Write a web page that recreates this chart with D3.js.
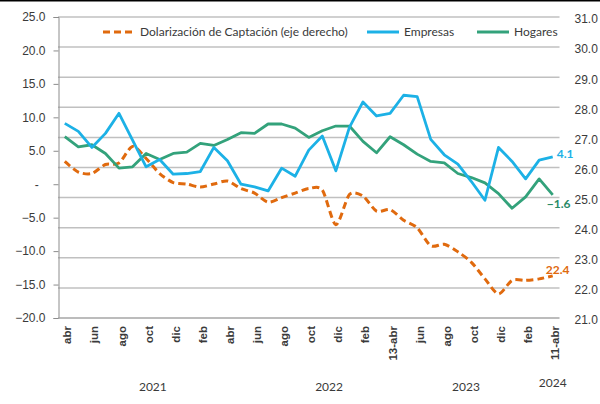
<!DOCTYPE html>
<html>
<head>
<meta charset="utf-8">
<script src="https://cdn.jsdelivr.net/npm/d3@7"></script>
<style>
  body { margin: 0; background: #fff; }
  svg { display: block; font-family: Lato, "Liberation Sans", sans-serif; }
</style>
</head>
<body>
<div id="chart"></div>
<script>
// monthly series, abr 2021 .. abr 2024
var empresas = [9.1, 7.9, 5.5, 7.6, 10.6, 6.6, 2.6, 3.7, 1.5, 1.6, 1.9, 5.5, 3.5, 0.0, -0.4, -1.0,
    2.4, 1.2, 5.1, 7.2, 2.0, 8.5, 12.3, 10.2, 10.6, 13.3, 13.1, 6.7, 4.4, 3.0, 0.4, -2.4,
    5.5, 3.4, 0.8, 3.6, 4.1];
var hogares = [7.1, 5.6, 5.9, 4.6, 2.4, 2.6, 4.6, 3.7, 4.6, 4.8, 6.1, 5.8, 6.7, 7.7, 7.6, 9.0,
    9.0, 8.4, 7.0, 8.0, 8.7, 8.7, 6.4, 4.7, 7.1, 5.9, 4.5, 3.4, 3.2, 1.6, 1.0, 0.2,
    -1.4, -3.6, -1.9, 0.8, -1.6];
// dolarizacion de captacion, right axis
var dolarizacion = [26.2, 25.85, 25.8, 26.1, 26.15, 26.7, 26.3, 25.8, 25.5, 25.45, 25.35, 25.45,
    25.55, 25.3, 25.15, 24.85, 25.0, 25.15, 25.3, 25.25, 24.1, 25.1, 25.05, 24.55, 24.6, 24.25,
    24.0, 23.4, 23.45, 23.2, 22.85, 22.3, 21.8, 22.25, 22.25, 22.3, 22.4];

// every second month gets a label
var monthLabels = ["abr", "jun", "ago", "oct", "dic", "feb", "abr", "jun", "ago", "oct",
    "dic", "feb", "13-abr", "jun", "ago", "oct", "dic", "feb", "11-abr"];
var years = ["2021", "2022", "2023", "2024"];
var yearAt = [6.5, 19.5, 29.6, 36]; // category index under which the year sits

var leftTicks = [-20, -15, -10, -5, 0, 5, 10, 15, 20, 25];
var rightTicks = [21, 22, 23, 24, 25, 26, 27, 28, 29, 30, 31];

var W = 600, H = 404;
var blue = "#1cb1e6", green = "#33a27b", orange = "#e06a0e";
var textCol = "#3a3a3a";

var svg = d3.select("#chart").append("svg").attr("width", W).attr("height", H);

// thin black rule at the very top
svg.append("line").attr("x1", 0).attr("x2", W).attr("y1", 0.5).attr("y2", 0.5)
    .attr("stroke", "#000").attr("stroke-width", 2);

var n = empresas.length;
var x = d3.scalePoint().domain(d3.range(n)).range([58, 559.5]).padding(0.5);
var yL = d3.scaleLinear().domain([-20, 25]).range([318, 17]);
var yR = d3.scaleLinear().domain([21, 31]).range([318, 17]);

// gridlines follow the right axis
svg.append("g").selectAll("line").data(rightTicks.slice(1)).enter().append("line")
    .attr("x1", 58).attr("x2", 559.5)
    .attr("y1", function (d) { return yR(d) }).attr("y2", function (d) { return yR(d) })
    .attr("stroke", "#c0c0c0").attr("stroke-width", 1.5);

// left axis
var leftAxis = d3.axisLeft(yL).tickValues(leftTicks).tickSize(5).tickPadding(8)
    .tickFormat(function (d) { return d === 0 ? "-  " : d3.format(".1f")(d) });
var gl = svg.append("g").attr("transform", "translate(58.5,0)").call(leftAxis);
gl.select(".domain").attr("stroke", "#8c8c8c");
gl.selectAll(".tick line").attr("stroke", "#8c8c8c");
gl.selectAll(".tick text").attr("fill", textCol).attr("font-size", 12)
    .style("white-space", "pre");

// right axis labels only
var rightAxis = d3.axisRight(yR).tickValues(rightTicks).tickSize(0).tickPadding(15)
    .tickFormat(d3.format(".1f"));
var gr = svg.append("g").attr("transform", "translate(559.5,2)").call(rightAxis);
gr.select(".domain").remove();
gr.selectAll(".tick text").attr("fill", textCol).attr("font-size", 12);

// bottom axis
var bottomAxis = d3.axisBottom(x).tickSize(0)
    .tickValues(d3.range(0, n, 2))
    .tickFormat(function (d) { return monthLabels[d / 2] });
var gb = svg.append("g").attr("transform", "translate(0,318)").call(bottomAxis);
gb.select(".domain").attr("stroke", "#a6a6a6").attr("stroke-width", 1.5)
    .attr("d", "M58,0H559.5");
gb.selectAll(".tick text")
    .attr("transform", "rotate(-90)")
    .attr("text-anchor", "end")
    .attr("x", -8).attr("y", 2).attr("dy", "0.35em")
    .attr("fill", textCol).attr("font-size", 11.5).attr("font-weight", "bold");

// year row
svg.append("g").selectAll("text").data(years).enter().append("text")
    .attr("x", function (d, i) { return 58 + (yearAt[i] + 0.5) * x.step() })
    .attr("y", function (d, i) { return i === 3 ? 387 : 391 })
    .attr("text-anchor", "middle")
    .attr("fill", textCol).attr("font-size", 12)
    .text(function (d) { return d });

// series
var lineL = d3.line().x(function (d, i) { return x(i) }).y(function (d) { return yL(d) });
var lineR = d3.line().x(function (d, i) { return x(i) }).y(function (d) { return yR(d) })
    .curve(d3.curveCardinal.tension(0.2));

svg.append("path").datum(dolarizacion).attr("d", lineR)
    .attr("fill", "none").attr("stroke", orange).attr("stroke-width", 3)
    .attr("stroke-dasharray", "7,4");
svg.append("path").datum(hogares).attr("d", lineL)
    .attr("fill", "none").attr("stroke", green).attr("stroke-width", 2.8)
    .attr("stroke-linejoin", "round");
svg.append("path").datum(empresas).attr("d", lineL)
    .attr("fill", "none").attr("stroke", blue).attr("stroke-width", 2.8)
    .attr("stroke-linejoin", "round");

// end labels
var last = n - 1;
svg.append("text").attr("x", x(last) + 4).attr("y", yL(empresas[last]) + 1)
    .attr("fill", blue).attr("font-weight", "bold").attr("font-size", 12)
    .text(d3.format(".1f")(empresas[last]));
svg.append("text").attr("x", x(last) - 6).attr("y", yL(hogares[last]) + 13)
    .attr("fill", "#2a8a66").attr("font-weight", "bold").attr("font-size", 12)
    .text(d3.format(".1f")(hogares[last]));
svg.append("text").attr("x", x(last) - 7).attr("y", yR(dolarizacion[last]) - 2)
    .attr("fill", orange).attr("font-weight", "bold").attr("font-size", 12)
    .text(d3.format(".1f")(dolarizacion[last]));

// legend
var legend = [
    { label: "Dolarización de Captación (eje derecho)", color: orange, dash: "7,4", x: 103 },
    { label: "Empresas", color: blue, dash: null, x: 367 },
    { label: "Hogares", color: green, dash: null, x: 477 }
];
var lg = svg.append("g").selectAll("g").data(legend).enter().append("g")
    .attr("transform", function (d) { return "translate(" + d.x + ",32)" });
lg.append("line").attr("x1", 0).attr("x2", 32)
    .attr("stroke", function (d) { return d.color })
    .attr("stroke-width", 3)
    .attr("stroke-dasharray", function (d) { return d.dash });
lg.append("text").attr("x", 37).attr("dy", "0.35em")
    .attr("fill", textCol).attr("font-size", 12)
    .text(function (d) { return d.label });
</script>
</body>
</html>
